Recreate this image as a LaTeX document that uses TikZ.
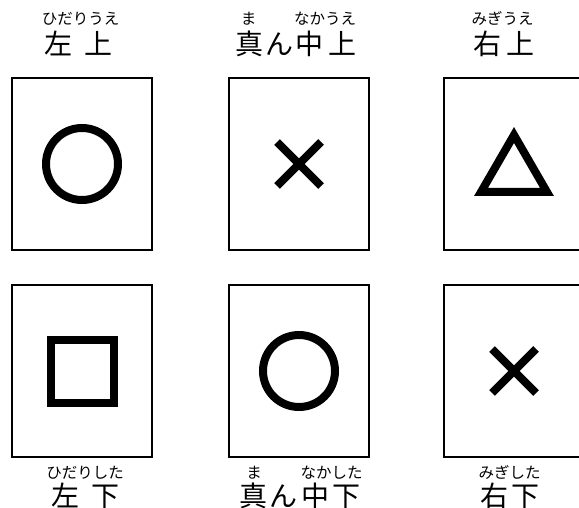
\documentclass[tikz,border=0pt]{standalone}
\usepackage{fontspec}
\setmainfont{Noto Sans CJK JP}
\usetikzlibrary{positioning}

\begin{document}
\begin{tikzpicture}[
    x=1pt, y=-1pt,
    panel/.style={rectangle, draw, line width=1.8pt, minimum width=140pt, minimum height=172pt,
                  inner sep=0pt},
    sym/.style={line width=8pt},
    title/.style={anchor=base, inner sep=0pt, font=\fontsize{28}{28}\selectfont},
    ruby/.style={anchor=base, inner sep=0pt, font=\fontsize{15.5}{15.5}\selectfont}
  ]
  \useasboundingbox (0,0) rectangle (579,508);

  % Panels
  \node[panel] (tl) at (82,164) {};
  \node[panel] (tm) at (299,164) {};
  \node[panel] (tr) at (514,164) {};
  \node[panel] (bl) at (82,371) {};
  \node[panel] (bm) at (299,371) {};
  \node[panel] (br) at (514,371) {};

  % Top labels
  \node[ruby] (tl-ruby) at (80.5,24.5) {ひだりうえ};
  \node[title] (tl-title) at (79,55) {左\hspace{12pt}上};
  \node[ruby] (tm-ruby) at (298.5,24.5) {ま\hspace{38pt}なかうえ};
  \node[title] (tm-title) at (296,55) {真\hspace{2pt}ん\hspace{2pt}中\hspace{5pt}上};
  \node[ruby] (tr-ruby) at (502.5,24.5) {みぎうえ};
  \node[title] (tr-title) at (504,55) {右\hspace{6pt}上};

  % Bottom labels
  \node[ruby] (bl-ruby) at (85,478.5) {ひだりした};
  \node[title] (bl-title) at (85.5,506.5) {左\hspace{13pt}下};
  \node[ruby] (bm-ruby) at (304.5,478.5) {ま\hspace{39pt}なかした};
  \node[title] (bm-title) at (300,506.5) {真\hspace{2pt}ん\hspace{4pt}中\hspace{3pt}下};
  \node[ruby] (br-ruby) at (509.5,478.5) {みぎした};
  \node[title] (br-title) at (510,506.5) {右\hspace{4pt}下};

  % Marks
  \draw[sym] (tl.center) circle[radius=36pt];
  \draw[sym] ([shift={(-22,-22)}]tm.center) -- ([shift={(22,22)}]tm.center);
  \draw[sym] ([shift={(22,-22)}]tm.center) -- ([shift={(-22,22)}]tm.center);
  \draw[sym] ([shift={(0,-29)}]tr.center) -- ([shift={(33,28)}]tr.center)
    -- ([shift={(-33,28)}]tr.center) -- cycle;
  \draw[sym] ([shift={(-31.5,-31.5)}]bl.center) rectangle ([shift={(31.5,31.5)}]bl.center);
  \draw[sym] (bm.center) circle[radius=36pt];
  \draw[sym] ([shift={(-22,-22)}]br.center) -- ([shift={(22,22)}]br.center);
  \draw[sym] ([shift={(22,-22)}]br.center) -- ([shift={(-22,22)}]br.center);
\end{tikzpicture}
\end{document}
